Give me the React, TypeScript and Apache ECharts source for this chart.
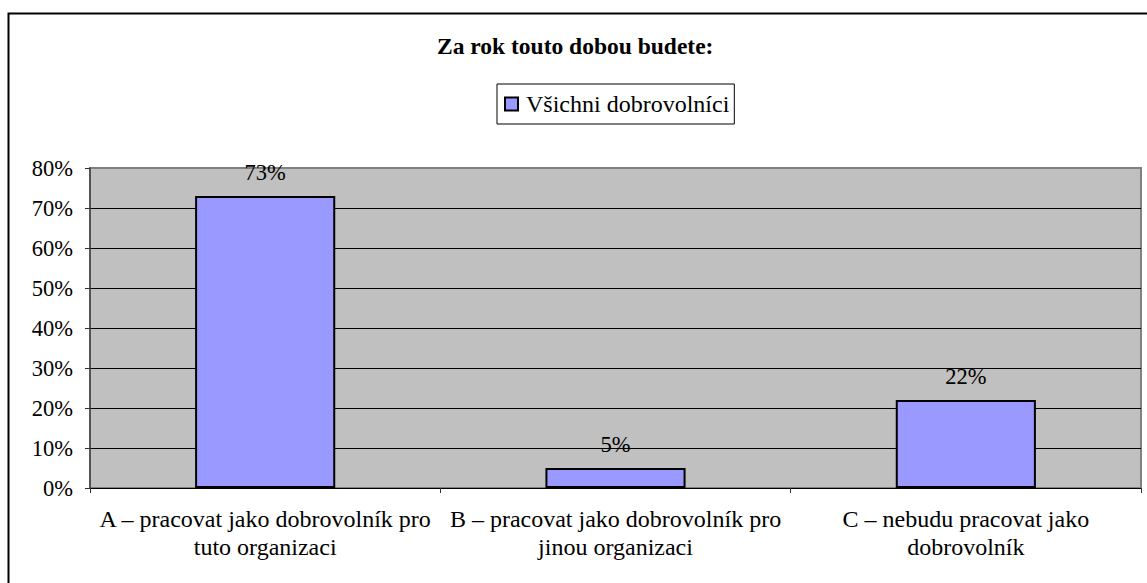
import React, { useEffect, useRef } from "react";
import * as echarts from "echarts";

const titleText = "Za rok touto dobou budete:";
const seriesName = "Všichni dobrovolníci";
const categories = [
  "A – pracovat jako dobrovolník pro\ntuto organizaci",
  "B – pracovat jako dobrovolník pro\njinou organizaci",
  "C – nebudu pracovat jako\ndobrovolník",
];
const values = [73, 5, 22];
const yMin = 0;
const yMax = 80;
const yStep = 10;

const FONT = "Liberation Serif";

export default function App() {
  const ref = useRef<HTMLDivElement>(null);

  useEffect(() => {
    if (!ref.current) return;
    const chart = echarts.init(ref.current, null, { renderer: "svg" });
    chart.setOption({
      animation: false,
      backgroundColor: "#ffffff",
      textStyle: { fontFamily: FONT, color: "#000" },
      title: {
        text: titleText,
        left: 437,
        top: 34,
        padding: 0,
        textStyle: {
          fontFamily: FONT,
          fontSize: 23.5,
          fontWeight: "bold",
          color: "#000",
        },
      },
      legend: {
        left: 497,
        top: 84,
        padding: [8, 5, 8, 7],
        borderColor: "#000",
        borderWidth: 1,
        itemWidth: 13,
        itemHeight: 13,
        icon: "rect",
        textStyle: {
          fontFamily: FONT,
          fontSize: 24,
          color: "#000",
          padding: [0, 0, 0, 3],
        },
        data: [seriesName],
      },
      graphic: [
        {
          type: "rect",
          shape: { x: 8.5, y: 13.5, width: 1300, height: 800 },
          style: { fill: "none", stroke: "#000", lineWidth: 2 },
          silent: true,
          z: 100,
        },
      ],
      grid: {
        left: 90,
        top: 168,
        right: 6,
        bottom: 95,
        show: true,
        backgroundColor: "#C0C0C0",
        borderColor: "#808080",
        borderWidth: 2,
        containLabel: false,
      },
      xAxis: {
        type: "category",
        data: categories,
        boundaryGap: true,
        axisLine: { show: true, lineStyle: { color: "#000", width: 1 } },
        axisTick: {
          show: true,
          alignWithLabel: false,
          length: 5,
          lineStyle: { color: "#333" },
        },
        axisLabel: {
          interval: 0,
          margin: 17,
          fontFamily: FONT,
          fontSize: 24,
          lineHeight: 28,
          color: "#000",
          align: "center",
        },
        splitLine: { show: false },
      },
      yAxis: {
        type: "value",
        min: yMin,
        max: yMax,
        interval: yStep,
        axisLine: { show: true, lineStyle: { color: "#444", width: 1.5 } },
        axisTick: { show: true, length: 5, lineStyle: { color: "#333" } },
        axisLabel: {
          formatter: "{value}%",
          margin: 17,
          fontFamily: FONT,
          fontSize: 22.5,
          color: "#000",
        },
        splitLine: {
          show: true,
          showMaxLine: false,
          lineStyle: { color: "#000", width: 1 },
        },
      },
      series: [
        {
          name: seriesName,
          type: "bar",
          data: values,
          barWidth: "40%",
          itemStyle: {
            color: "#9999FF",
            borderColor: "#000",
            borderWidth: 2,
          },
          label: {
            show: true,
            position: "top",
            distance: 12,
            formatter: "{c}%",
            fontFamily: FONT,
            fontSize: 22.5,
            color: "#000",
          },
        },
      ],
    });
    return () => chart.dispose();
  }, []);

  return (
    <div
      ref={ref}
      style={{ position: "fixed", left: 0, top: 0, width: 1147, height: 583 }}
    />
  );
}
